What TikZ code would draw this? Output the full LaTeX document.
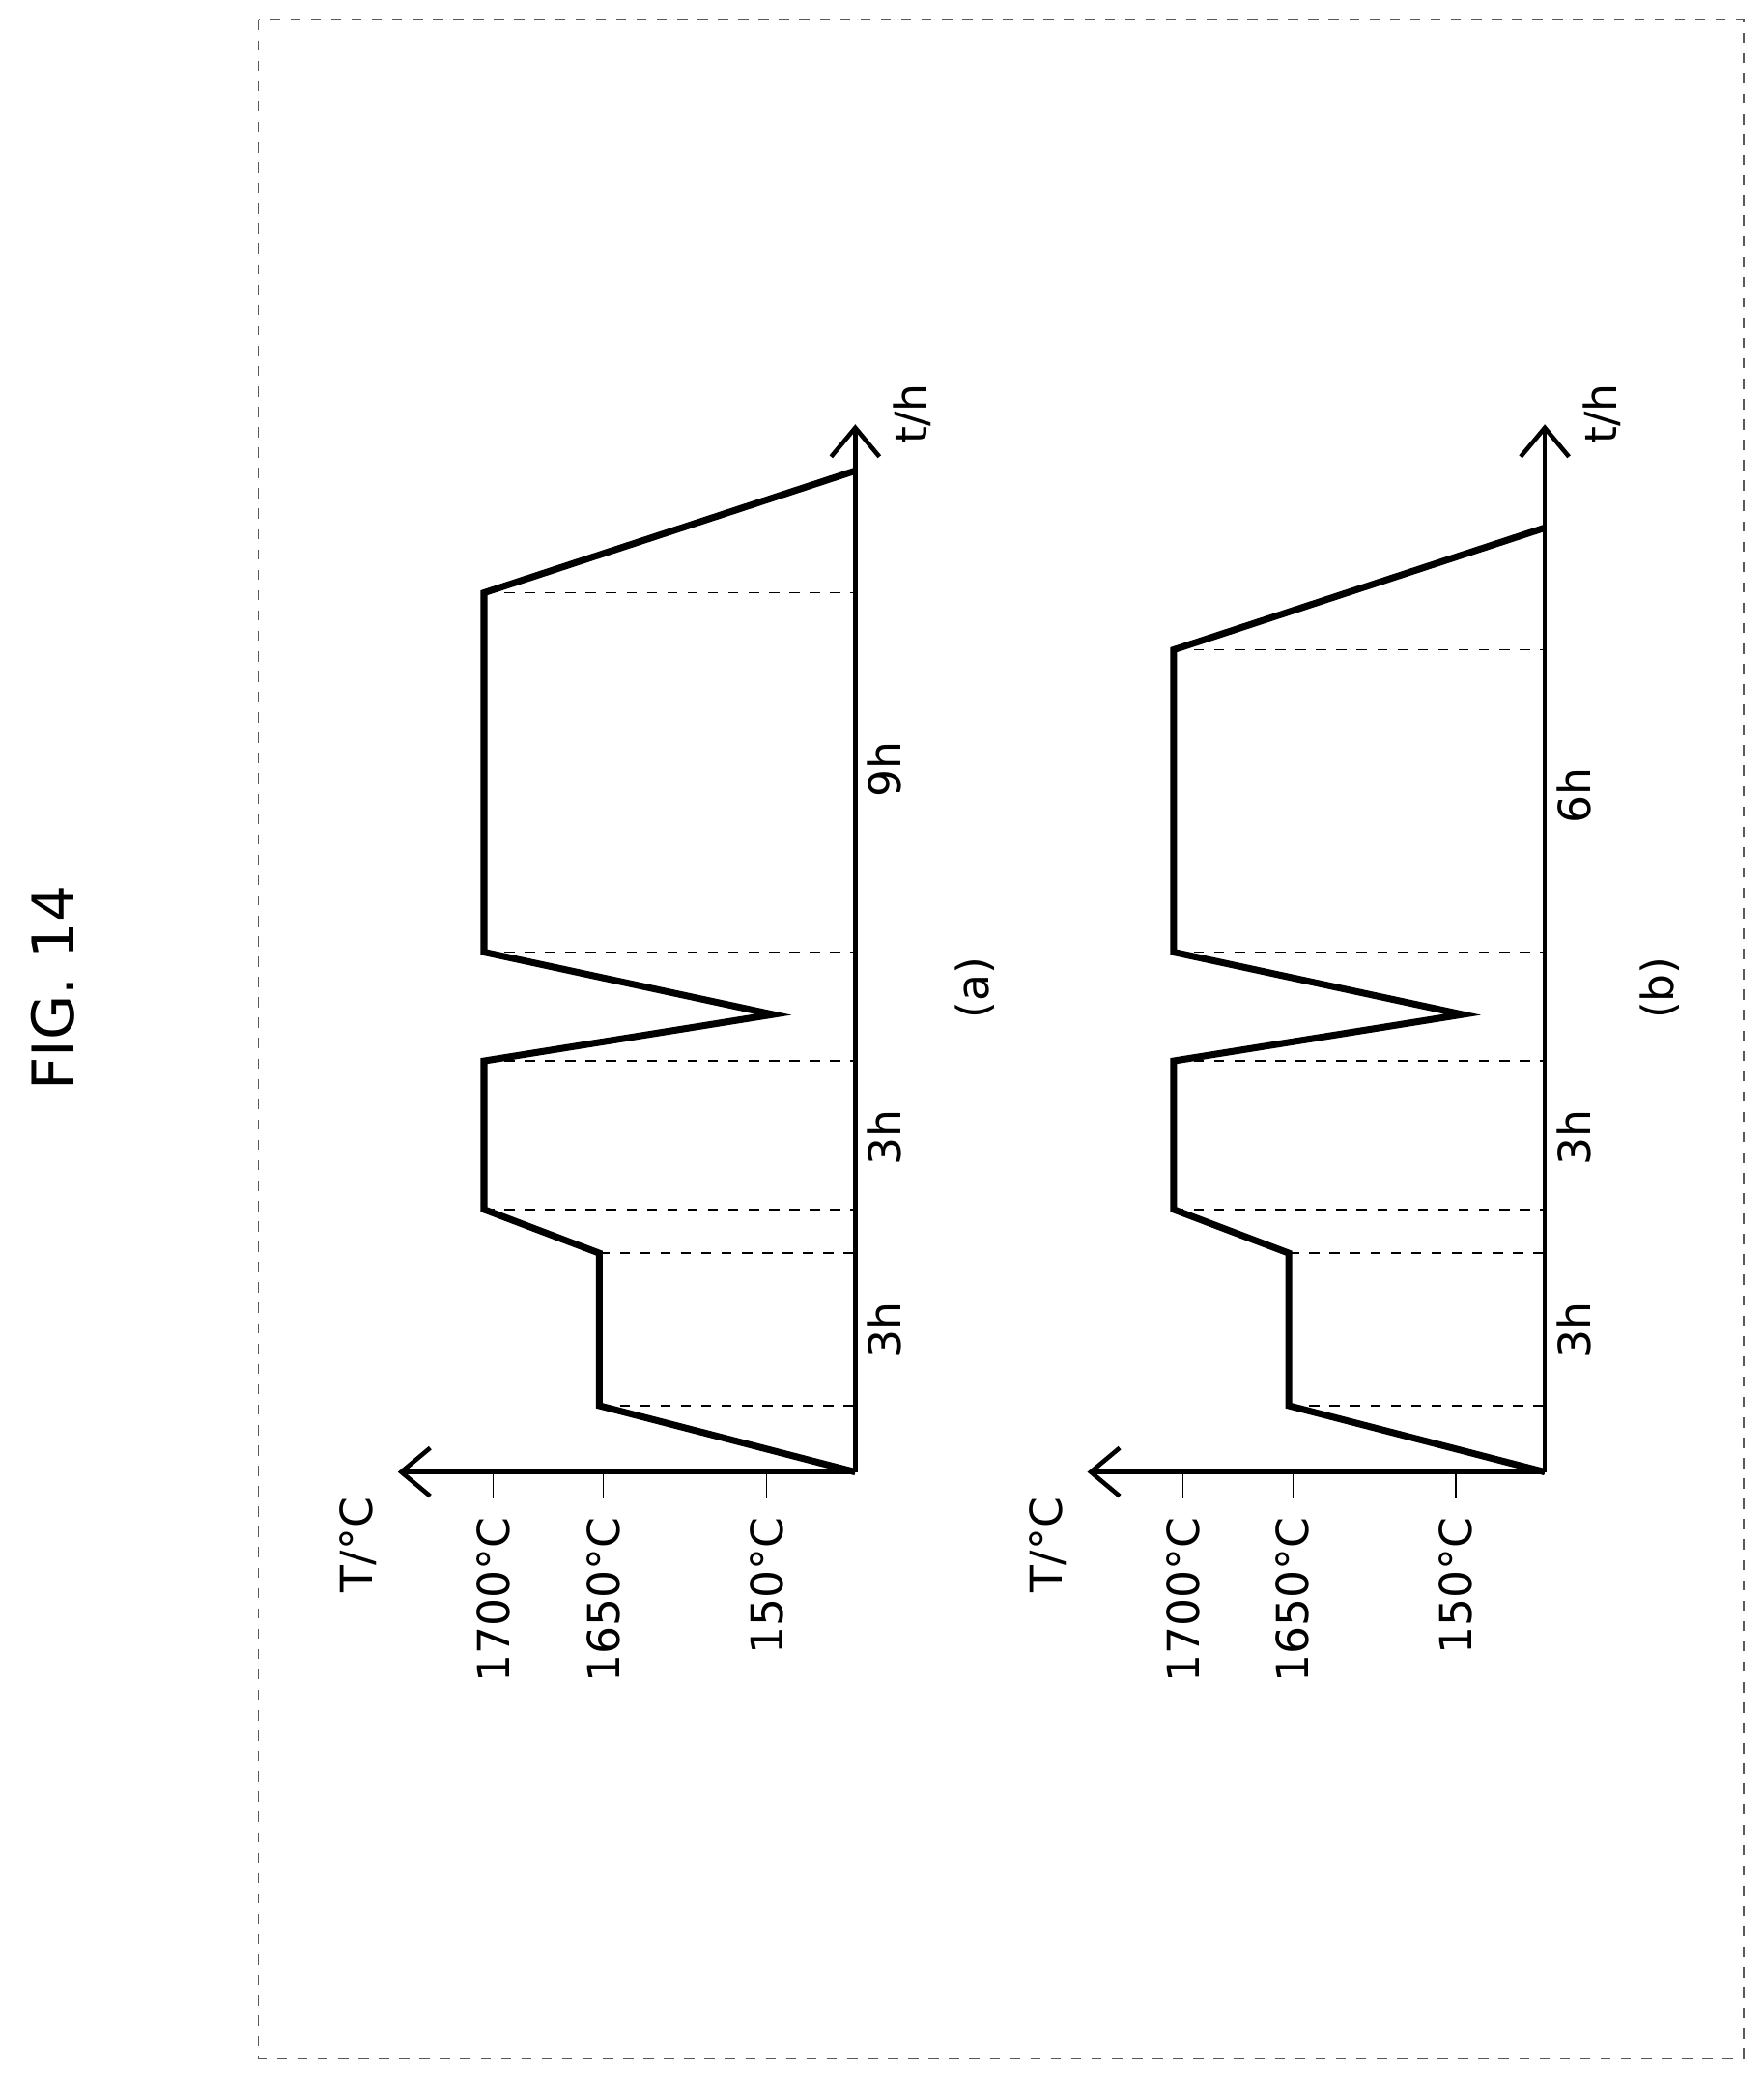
\documentclass[tikz,border=0pt]{standalone}
\usepackage{fontspec}
\setmainfont{DejaVu Sans}
\usetikzlibrary{calc}
\tikzset{>=stealth}
\tikzset{
  curve/.style={line width=2pt},
  guide/.style={dashed,thin},
  axis/.style={line width=1.3pt,->,>={Straight Barb[length=3mm,width=5mm]}},
  lbl/.style={rotate=90,font=\fontsize{13}{15}\selectfont},
}
\usetikzlibrary{arrows.meta}

% one temperature profile, #1 = name prefix, #2 = end of hold, #3 = end of curve, #4 = hold label
\newcommand{\profile}[4]{
  \coordinate (#1o) at (645,1110);
  \coordinate (#1T) at (300,1110);
  \coordinate (#1t) at (645,320);
  % Draw axes
  \draw[axis] (#1o) -- (#1T);
  \draw[axis] (#1o) -- (#1t);
  % Draw the profile
  \draw[curve] (#1o) -- (452,1060) -- (452,945) -- (365,912) -- (365,800)
     -- (583,765) -- (365,718) -- (365,#2) -- (645,#3);
  % Dashed guides
  \foreach \y/\x in {1060/452,945/452,912/365,800/365,718/365,#2/365}
    \draw[guide] (\x,\y) -- (645,\y);
  % Ticks and labels
  \foreach \x/\t in {372/1700,455/1650,578/150}{
    \draw[thin] (\x,1110) -- (\x,1130);
    \node[lbl,anchor=east] at (\x,1135) {\t°C};
  }
  \node[lbl] (#1Tl) at (270,1165) {T/°C};
  \node[lbl] (#1tl) at (688,312) {t/h};
  \node[lbl] (#1h1) at (667,1003) {3h};
  \node[lbl] (#1h2) at (667,858) {3h};
  \node[lbl] (#1h3) at (667,#4) {\ifdim#4pt>590pt 6h\else 9h\fi};
}

\begin{document}
\begin{tikzpicture}[x=0.01373cm,y=-0.01373cm]
  \useasboundingbox (0,0) rectangle (1330,1570);
  % Frame and title
  \draw[dashed,thin,gray!70!black] (195,15) rectangle (1315,1552);
  \node[rotate=90,font=\fontsize{17}{20}\selectfont] (title) at (40,745) {FIG. 14};
  % Profile (a)
  \profile{a}{447}{355}{580}
  \node[lbl] (capa) at (735,745) {(a)};
  % Profile (b)
  \begin{scope}[xshift=520*0.01373cm]
    \profile{b}{490}{398}{600}
  \end{scope}
  \node[lbl] (capb) at (1252,745) {(b)};
\end{tikzpicture}
\end{document}
